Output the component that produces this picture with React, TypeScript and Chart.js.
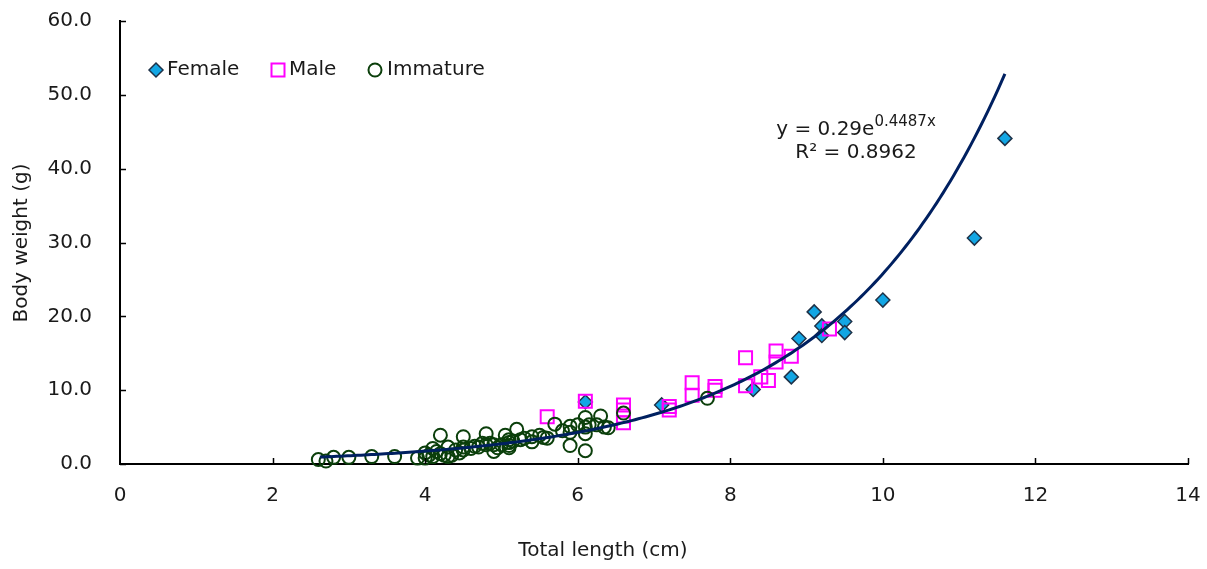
import React, { useEffect, useRef } from 'react';
import { Chart, registerables } from 'chart.js';

Chart.register(...registerables);

// ---- Data ----
const femaleLength = [6.1, 7.1, 8.3, 8.8, 8.9, 9.1, 9.2, 9.2, 9.5, 9.5, 10.0, 11.2, 11.6];
const femaleWeight = [8.4, 8.0, 10.1, 11.8, 17.0, 20.6, 18.7, 17.4, 19.3, 17.8, 22.2, 30.6, 44.1];

const maleLength = [5.6, 6.1, 6.6, 6.6, 6.6, 6.6, 7.2, 7.2, 7.5, 7.5, 7.8, 7.8, 8.2, 8.2, 8.4, 8.5, 8.6, 8.6, 8.8, 9.3];
const maleWeight = [6.4, 8.5, 8.0, 7.3, 6.5, 5.6, 7.8, 7.3, 11.0, 9.3, 10.5, 10.0, 14.4, 10.6, 11.8, 11.3, 15.3, 13.8, 14.6, 18.3];

const immatureLength = [
  2.6, 2.7, 2.8, 3.0, 3.3, 3.6, 3.9, 4.0, 4.0, 4.05, 4.1, 4.1, 4.15, 4.2, 4.2, 4.25, 4.3, 4.3, 4.35,
  4.4, 4.45, 4.5, 4.5, 4.5, 4.6, 4.65, 4.7, 4.75, 4.8, 4.8, 4.85, 4.9, 4.9, 4.95, 5.0, 5.05, 5.1,
  5.1, 5.1, 5.1, 5.15, 5.2, 5.25, 5.3, 5.4, 5.4, 5.5, 5.55, 5.6, 5.7, 5.8, 5.9, 5.9, 5.9, 6.0,
  6.1, 6.1, 6.1, 6.1, 6.15, 6.25, 6.3, 6.35, 6.4, 6.6, 7.7,
];
const immatureWeight = [
  0.6, 0.4, 0.9, 0.9, 1.0, 1.0, 0.8, 1.5, 0.8, 1.2, 2.1, 1.0, 1.7, 1.4, 3.9, 1.2, 2.3, 1.0, 1.2,
  1.9, 1.5, 3.7, 2.3, 1.9, 2.1, 2.4, 2.3, 2.8, 4.1, 2.6, 2.8, 2.6, 1.7, 2.2, 2.6, 3.9, 3.3,
  2.9, 2.5, 2.2, 3.1, 4.7, 3.3, 3.5, 3.0, 3.7, 3.9, 3.6, 3.5, 5.4, 4.5, 5.1, 4.3, 2.5, 5.3,
  6.3, 5.0, 4.1, 1.8, 5.3, 5.3, 6.5, 5.0, 4.9, 6.9, 8.9,
];

// Exponential trendline shown in the chart: y = 0.29 e^(0.4487 x), R² = 0.8962
const trendA = 0.29;
const trendB = 0.4487;
const trendStart = 2.62;
const trendEnd = 11.6;

const xTickValues = [0, 2, 4, 6, 8, 10, 12, 14];
const yTickValues = [0, 10, 20, 30, 40, 50, 60];

const legendLabels = ['Female', 'Male', 'Immature'];
const xTitle = 'Total length (cm)';
const yTitle = 'Body weight (g)';
const eqMain = 'y = 0.29e';
const eqSup = '0.4487x';
const eqR2 = 'R² = 0.8962';

const FONT = '"DejaVu Sans", sans-serif';
const TEXT = '#1a1a1a';
const FEMALE_FILL = '#12A6E4';
const FEMALE_BORDER = '#1E3248';
const MALE_COLOR = '#FF00FF';
const IMM_COLOR = '#0B3F0B';
const TREND_COLOR = '#002060';

export default function App() {
  const ref = useRef<HTMLCanvasElement>(null);

  useEffect(() => {
    const canvas = ref.current;
    if (!canvas) return;

    const pts = (xs: number[], ys: number[]) => xs.map((x, i) => ({ x, y: ys[i] }));
    const trend: { x: number; y: number }[] = [];
    const n = 200;
    for (let i = 0; i <= n; i++) {
      const x = trendStart + ((trendEnd - trendStart) * i) / n;
      trend.push({ x, y: trendA * Math.exp(trendB * x) });
    }

    const overlay = {
      id: 'overlay',
      afterDraw(chart: any) {
        const ctx = chart.ctx as CanvasRenderingContext2D;
        const xs = chart.scales.x;
        const ys = chart.scales.y;
        const area = chart.chartArea;
        ctx.save();
        // inward tick marks
        ctx.strokeStyle = '#000';
        ctx.lineWidth = 1.5;
        ctx.beginPath();
        yTickValues.forEach((v) => {
          const py = Math.round(ys.getPixelForValue(v)) + 0.5;
          ctx.moveTo(area.left, py);
          ctx.lineTo(area.left + 6, py);
        });
        xTickValues.forEach((v) => {
          if (v === 0) return;
          const px = Math.round(xs.getPixelForValue(v)) + 0.5;
          ctx.moveTo(px, area.bottom);
          ctx.lineTo(px, area.bottom - 6);
        });
        ctx.stroke();

        // axis titles
        ctx.fillStyle = TEXT;
        ctx.font = `20px ${FONT}`;
        ctx.textAlign = 'center';
        ctx.textBaseline = 'middle';
        ctx.fillText(xTitle, 603, 551);
        ctx.save();
        ctx.translate(22, 243);
        ctx.rotate(-Math.PI / 2);
        ctx.fillText(yTitle, 0, 0);
        ctx.restore();

        // legend
        const ly = 70;
        ctx.beginPath();
        ctx.moveTo(156 - 7, ly);
        ctx.lineTo(156, ly - 7);
        ctx.lineTo(156 + 7, ly);
        ctx.lineTo(156, ly + 7);
        ctx.closePath();
        ctx.fillStyle = FEMALE_FILL;
        ctx.fill();
        ctx.strokeStyle = FEMALE_BORDER;
        ctx.lineWidth = 1.5;
        ctx.stroke();
        ctx.strokeStyle = MALE_COLOR;
        ctx.lineWidth = 2;
        ctx.strokeRect(278 - 6.5, ly - 6.5, 13, 13);
        ctx.strokeStyle = IMM_COLOR;
        ctx.beginPath();
        ctx.arc(375, ly, 6.5, 0, Math.PI * 2);
        ctx.stroke();
        ctx.fillStyle = TEXT;
        ctx.font = `20px ${FONT}`;
        ctx.textAlign = 'left';
        ctx.textBaseline = 'middle';
        ctx.fillText(legendLabels[0], 167, ly);
        ctx.fillText(legendLabels[1], 289, ly);
        ctx.fillText(legendLabels[2], 387, ly);

        // equation
        ctx.textBaseline = 'alphabetic';
        ctx.font = `20px ${FONT}`;
        const wMain = ctx.measureText(eqMain).width;
        ctx.font = `15px ${FONT}`;
        const wSup = ctx.measureText(eqSup).width;
        const cx = 856;
        const start = cx - (wMain + wSup) / 2;
        ctx.font = `20px ${FONT}`;
        ctx.fillText(eqMain, start, 135);
        ctx.font = `15px ${FONT}`;
        ctx.fillText(eqSup, start + wMain, 126);
        ctx.font = `20px ${FONT}`;
        ctx.textAlign = 'center';
        ctx.fillText(eqR2, cx, 158);
        ctx.restore();
      },
    };

    const chart = new Chart(canvas, {
      type: 'scatter',
      data: {
        datasets: [
          {
            type: 'line',
            label: 'Trend',
            data: trend,
            borderColor: TREND_COLOR,
            borderWidth: 3,
            pointRadius: 0,
            fill: false,
            tension: 0,
            order: 0,
            clip: false,
          } as any,
          {
            label: legendLabels[2],
            data: pts(immatureLength, immatureWeight),
            pointStyle: 'circle',
            pointRadius: 6.5,
            backgroundColor: 'rgba(0,0,0,0)',
            borderColor: IMM_COLOR,
            borderWidth: 2,
            order: 1,
            clip: false,
          },
          {
            label: legendLabels[1],
            data: pts(maleLength, maleWeight),
            pointStyle: 'rect',
            pointRadius: 9.2,
            backgroundColor: 'rgba(0,0,0,0)',
            borderColor: MALE_COLOR,
            borderWidth: 2,
            order: 2,
            clip: false,
          },
          {
            label: legendLabels[0],
            data: pts(femaleLength, femaleWeight),
            pointStyle: 'rectRot',
            pointRadius: 7,
            backgroundColor: FEMALE_FILL,
            borderColor: FEMALE_BORDER,
            borderWidth: 1.5,
            order: 3,
            clip: false,
          },
        ],
      },
      options: {
        animation: false,
        responsive: false,
        devicePixelRatio: 1,
        events: [],
        layout: { padding: { left: 0, top: 21, right: 19, bottom: 0 } },
        plugins: {
          legend: { display: false },
          tooltip: { enabled: false },
          title: { display: false },
        },
        scales: {
          x: {
            type: 'linear',
            min: 0,
            max: 14,
            afterFit: (s: any) => {
              s.height = 105;
              s.paddingLeft = 0;
              s.paddingRight = 0;
            },
            afterBuildTicks: (s: any) => {
              s.ticks = xTickValues.map((v) => ({ value: v }));
            },
            ticks: {
              padding: 20,
              color: TEXT,
              font: { family: FONT, size: 20 },
              callback: (v: any) => String(v),
            },
            grid: { display: true, drawOnChartArea: false, drawTicks: false },
            border: { display: true, color: '#000', width: 2 },
          },
          y: {
            type: 'linear',
            min: 0,
            max: 60,
            afterFit: (s: any) => {
              s.width = 120;
              s.paddingTop = 0;
              s.paddingBottom = 0;
            },
            afterBuildTicks: (s: any) => {
              s.ticks = yTickValues.map((v) => ({ value: v }));
            },
            ticks: {
              padding: 28,
              color: TEXT,
              font: { family: FONT, size: 20 },
              callback: (v: any) => Number(v).toFixed(1),
            },
            grid: { display: true, drawOnChartArea: false, drawTicks: false },
            border: { display: true, color: '#000', width: 2 },
          },
        },
      },
      plugins: [overlay],
    });

    return () => chart.destroy();
  }, []);

  return (
    <div style={{ position: 'absolute', left: 0, top: 0, width: 1207, height: 569, background: '#fff' }}>
      <canvas ref={ref} width={1207} height={569} style={{ display: 'block', width: 1207, height: 569 }} />
    </div>
  );
}
